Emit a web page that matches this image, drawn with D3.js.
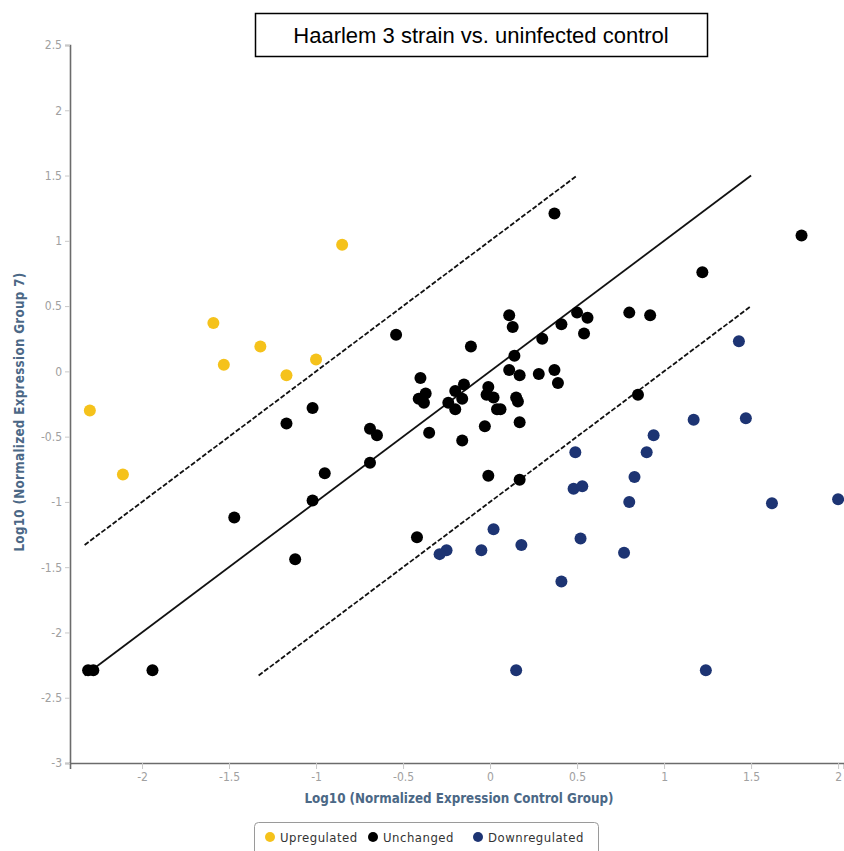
<!DOCTYPE html>
<html>
<head>
<meta charset="utf-8">
<script src="https://cdn.jsdelivr.net/npm/d3@7"></script>
<style>
  body { margin: 0; background: #fff; }
  svg { display: block; }
</style>
</head>
<body>
<script>
// values (log10 control, log10 group 7)
var upregulated = [
  [-2.30, -0.30], [-2.11, -0.79], [-1.59, 0.37], [-1.53, 0.05],
  [-1.32, 0.19], [-1.17, -0.03], [-1.00, 0.09], [-0.85, 0.97]
];
var unchanged = [
  [-1.02, -0.28], [-1.17, -0.40], [-0.69, -0.44], [-0.65, -0.49], [-0.69, -0.70],
  [-0.95, -0.78], [-1.02, -0.99], [-1.47, -1.12], [-1.12, -1.44], [-0.42, -1.27],
  [-2.31, -2.29], [-2.28, -2.29], [-1.94, -2.29], [-0.54, 0.28], [-0.11, 0.19],
  [-0.40, -0.05], [-0.37, -0.17], [-0.41, -0.21], [-0.38, -0.24], [-0.35, -0.47],
  [-0.20, -0.15], [-0.15, -0.10], [-0.24, -0.24], [-0.20, -0.29], [-0.16, -0.21],
  [-0.16, -0.53], [-0.03, -0.42], [-0.01, -0.12], [-0.02, -0.18], [0.02, -0.20],
  [0.04, -0.29], [0.06, -0.29], [0.11, 0.43], [0.13, 0.34], [0.14, 0.12],
  [0.11, 0.01], [0.17, -0.03], [0.15, -0.20], [0.16, -0.23], [0.17, -0.39],
  [0.30, 0.25], [0.28, -0.02], [0.37, 0.01], [0.39, -0.09], [0.41, 0.36],
  [0.50, 0.45], [0.56, 0.41], [0.54, 0.29], [0.80, 0.45], [0.92, 0.43],
  [-0.01, -0.80], [0.17, -0.83], [0.37, 1.21], [1.79, 1.04], [1.22, 0.76],
  [0.85, -0.18]
];
var downregulated = [
  [0.49, -0.62], [0.90, -0.62], [0.94, -0.49], [1.17, -0.37], [1.47, -0.36],
  [0.83, -0.81], [0.48, -0.90], [0.53, -0.88], [0.80, -1.00], [1.62, -1.01],
  [2.00, -0.98], [0.02, -1.21], [0.52, -1.28], [0.18, -1.33], [-0.05, -1.37],
  [-0.25, -1.37], [-0.29, -1.40], [0.77, -1.39], [0.41, -1.61], [0.15, -2.29],
  [1.24, -2.29], [1.43, 0.23]
];

// reference lines y = x + offset
var lineOffsets = [0, 1, -1];
var lineFrom = [-2.33, -2.33, -1.33];
var lineTo = [1.5, 0.5, 1.5];
var lineDashed = [false, true, true];

var xTicks = [-2, -1.5, -1, -0.5, 0, 0.5, 1, 1.5, 2];
var yTicks = [-3, -2.5, -2, -1.5, -1, -0.5, 0, 0.5, 1, 1.5, 2, 2.5];

var seriesNames = ["Upregulated", "Unchanged", "Downregulated"];
var seriesColors = ["#f5c21b", "#000000", "#1d3473"];
var seriesData = [upregulated, unchanged, downregulated];

var chartTitle = "Haarlem 3 strain vs. uninfected control";
var xTitle = "Log10 (Normalized Expression Control Group)";
var yTitle = "Log10 (Normalized Expression Group 7)";

var W = 844, H = 851;
var svg = d3.select("body").append("svg").attr("width", W).attr("height", H);

var x = d3.scaleLinear().domain([-2.414, 2.034]).range([70, 844]);
var y = d3.scaleLinear().domain([-3, 2.5]).range([763, 45]);

var tickFont = "'DejaVu Sans Condensed', 'DejaVu Sans', sans-serif";

// axes
var xAxis = svg.append("g")
  .attr("transform", "translate(0," + y(-3) + ")")
  .call(d3.axisBottom(x).tickValues(xTicks).tickSize(6).tickPadding(3).tickFormat(function(d) { return String(d); }));
var yAxis = svg.append("g")
  .attr("transform", "translate(" + x.range()[0] + ",0)")
  .call(d3.axisLeft(y).tickValues(yTicks).tickSize(5).tickPadding(3).tickFormat(function(d) { return String(d); }));

[xAxis, yAxis].forEach(function(g) {
  g.select(".domain").attr("stroke", "#6b6b6b").attr("stroke-width", 1.6);
  g.selectAll(".tick line").attr("stroke", "#c8c8c8");
  g.selectAll(".tick text").attr("fill", "#a0a0a0").style("font-family", tickFont).style("font-size", "12px");
});

// reference lines
var lineGen = d3.line().x(function(d) { return x(d[0]); }).y(function(d) { return y(d[1]); });
lineOffsets.forEach(function(off, i) {
  svg.append("path")
    .attr("d", lineGen([[lineFrom[i], lineFrom[i] + off], [lineTo[i], lineTo[i] + off]]))
    .attr("fill", "none")
    .attr("stroke", "#111")
    .attr("stroke-width", 1.8)
    .attr("stroke-dasharray", lineDashed[i] ? "5,2" : null);
});

// points
seriesData.forEach(function(data, i) {
  svg.append("g").selectAll("circle")
    .data(data)
    .enter()
    .append("circle")
    .attr("cx", function(d) { return x(d[0]); })
    .attr("cy", function(d) { return y(d[1]); })
    .attr("r", 6)
    .attr("fill", seriesColors[i]);
});

// axis titles
svg.append("text")
  .attr("x", 459).attr("y", 803)
  .attr("text-anchor", "middle")
  .style("font-family", tickFont).style("font-weight", "bold").style("font-size", "13.3px")
  .attr("fill", "#4b6886")
  .text(xTitle);
svg.append("text")
  .attr("transform", "translate(24,412) rotate(-90)")
  .attr("text-anchor", "middle")
  .style("font-family", tickFont).style("font-weight", "bold").style("font-size", "13.3px")
  .style("letter-spacing", "0.3px")
  .attr("fill", "#4b6886")
  .text(yTitle);

// title box
svg.append("rect")
  .attr("x", 255.5).attr("y", 13.5).attr("width", 452).attr("height", 43)
  .attr("fill", "#fff").attr("stroke", "#000").attr("stroke-width", 1.5);
svg.append("text")
  .attr("x", 481).attr("y", 43)
  .attr("text-anchor", "middle")
  .style("font-family", "'Liberation Sans', Arial, sans-serif").style("font-size", "22px")
  .attr("fill", "#000")
  .text(chartTitle);

// legend
var legend = svg.append("g");
legend.append("rect")
  .attr("x", 254.5).attr("y", 822.5).attr("width", 344).attr("height", 36)
  .attr("rx", 4).attr("fill", "#fff").attr("stroke", "#9a9a9a");
var legendX = [270, 373, 478];
seriesNames.forEach(function(name, i) {
  legend.append("circle").attr("cx", legendX[i]).attr("cy", 837).attr("r", 5).attr("fill", seriesColors[i]);
  legend.append("text")
    .attr("x", legendX[i] + 10).attr("y", 841.5)
    .style("font-family", tickFont).style("font-size", "13px")
    .style("letter-spacing", "0.5px")
    .attr("fill", "#333")
    .text(name);
});
</script>
</body>
</html>
